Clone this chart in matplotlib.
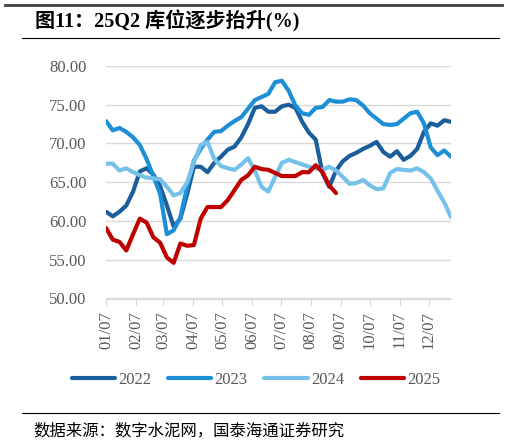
import matplotlib
matplotlib.use('Agg')
import matplotlib.pyplot as plt
import matplotlib.dates as mdates
from matplotlib.lines import Line2D
import pandas as pd

# weekly inventory ratio (%), one point per week from 01/07
s2022 = [61.2, 60.6, 61.2, 62.0, 63.8, 66.4, 66.8, 66.0, 64.5, 62.0,
         59.3, 60.3, 63.5, 67.0, 67.0, 66.3, 67.5, 68.3, 69.2, 69.6,
         70.8, 72.5, 74.6, 74.8, 74.1, 74.1, 74.8, 75.0, 74.6, 72.8,
         71.4, 70.5, 66.2, 64.4, 66.5, 67.7, 68.4, 68.8, 69.3, 69.7,
         70.2, 68.9, 68.3, 69.0, 67.9, 68.4, 69.3, 71.5, 72.6, 72.3,
         73.0, 72.8]
s2023 = [72.9, 71.7, 72.0, 71.5, 70.8, 69.8, 68.0, 65.8, 63.5, 58.3,
         58.8, 60.5, 64.5, 67.8, 69.3, 70.5, 71.5, 71.6, 72.3, 72.9,
         73.4, 74.5, 75.6, 76.0, 76.4, 77.9, 78.1, 76.8, 74.9, 73.9,
         73.7, 74.6, 74.7, 75.6, 75.4, 75.4, 75.7, 75.6, 74.9, 73.9,
         73.2, 72.5, 72.4, 72.5, 73.2, 73.9, 74.1, 72.6, 69.5, 68.5,
         69.1, 68.3]
s2024 = [67.4, 67.4, 66.5, 66.8, 66.3, 65.9, 65.6, 65.5, 65.4, 64.4,
         63.3, 63.6, 65.0, 67.6, 69.8, 70.2, 68.0, 67.1, 66.8, 66.6,
         67.3, 68.1, 66.5, 64.4, 63.8, 65.7, 67.5, 67.9, 67.6, 67.3,
         67.0, 66.8, 66.6, 67.0, 66.5, 65.7, 64.8, 64.9, 65.3, 64.6,
         64.1, 64.2, 66.2, 66.7, 66.6, 66.5, 66.8, 66.3, 65.5, 63.9,
         62.4, 60.5]
s2025 = [59.1, 57.6, 57.3, 56.2, 58.3, 60.3, 59.8, 57.9, 57.2, 55.3,
         54.6, 57.1, 56.8, 56.9, 60.3, 61.8, 61.8, 61.8, 62.7, 64.0,
         65.3, 65.9, 67.0, 66.7, 66.6, 66.2, 65.8, 65.8, 65.8, 66.3,
         66.3, 67.2, 66.3, 64.6, 63.6]

series = {'2022': s2022, '2023': s2023, '2024': s2024, '2025': s2025}
colors = {'2022': '#1A5E9C', '2023': '#1C8FD6', '2024': '#76C1EA', '2025': '#C00000'}

weeks = pd.date_range('2023-01-07', periods=52, freq='7D')
month_ticks = pd.date_range('2023-01-01', periods=12, freq='MS') + pd.Timedelta(days=6)

serif = ['Liberation Serif', 'Noto Sans CJK SC']
gray = '#595959'

fig = plt.figure(figsize=(5.07, 4.44), dpi=100)
ax = fig.add_axes([106 / 507, 1 - 298.5 / 444, 345 / 507, 232.5 / 444])

for name, vals in series.items():
    ax.plot(weeks[:len(vals)], vals, color=colors[name], lw=3,
            solid_capstyle='round', solid_joinstyle='round', label=name)

ax.set_xlim(weeks[0], weeks[-1])
ax.set_ylim(50, 80)
ax.set_yticks([50, 55, 60, 65, 70, 75, 80])
ax.yaxis.set_major_formatter(plt.FormatStrFormatter('%.2f'))
ax.set_xticks(month_ticks)
ax.xaxis.set_major_formatter(mdates.DateFormatter('%m/%d'))
ax.grid(axis='y', color='#D9D9D9', lw=1)
ax.set_axisbelow(True)
for sp in ['top', 'right', 'left']:
    ax.spines[sp].set_visible(False)
ax.spines['bottom'].set_color('#D9D9D9')
ax.tick_params(axis='y', length=0, pad=14, labelsize=12, labelcolor=gray)
ax.tick_params(axis='x', length=5, color='#D9D9D9', direction='out',
               labelsize=12, labelcolor=gray, labelrotation=90, pad=4)
for lab in ax.get_xticklabels() + ax.get_yticklabels():
    lab.set_fontfamily(serif)

leg = fig.legend(loc='center', bbox_to_anchor=(256 / 507, 1 - 380 / 444), ncol=4,
                 frameon=False, handlelength=2.6, handletextpad=0.2,
                 columnspacing=1.0, prop={'family': serif, 'size': 12})
for t in leg.get_texts():
    t.set_color(gray)

fig.add_artist(Line2D([5 / 507, 502 / 507], [1 - 5 / 444] * 2, color='#404040', lw=2))
fig.add_artist(Line2D([22 / 507, 499 / 507], [1 - 38 / 444] * 2, color='black', lw=0.8))
fig.add_artist(Line2D([22 / 507, 499 / 507], [1 - 413 / 444] * 2, color='black', lw=0.8))

fig.text(35 / 507, 1 - 21 / 444, '图11：25Q2 库位逐步抬升(%)', fontsize=14.5,
         fontweight='bold', family=serif, va='center', ha='left')
fig.text(33 / 507, 1 - 431 / 444, '数据来源：数字水泥网，国泰海通证券研究', fontsize=11.8,
         family=serif, va='center', ha='left')

fig.savefig('out.png', dpi=100)
